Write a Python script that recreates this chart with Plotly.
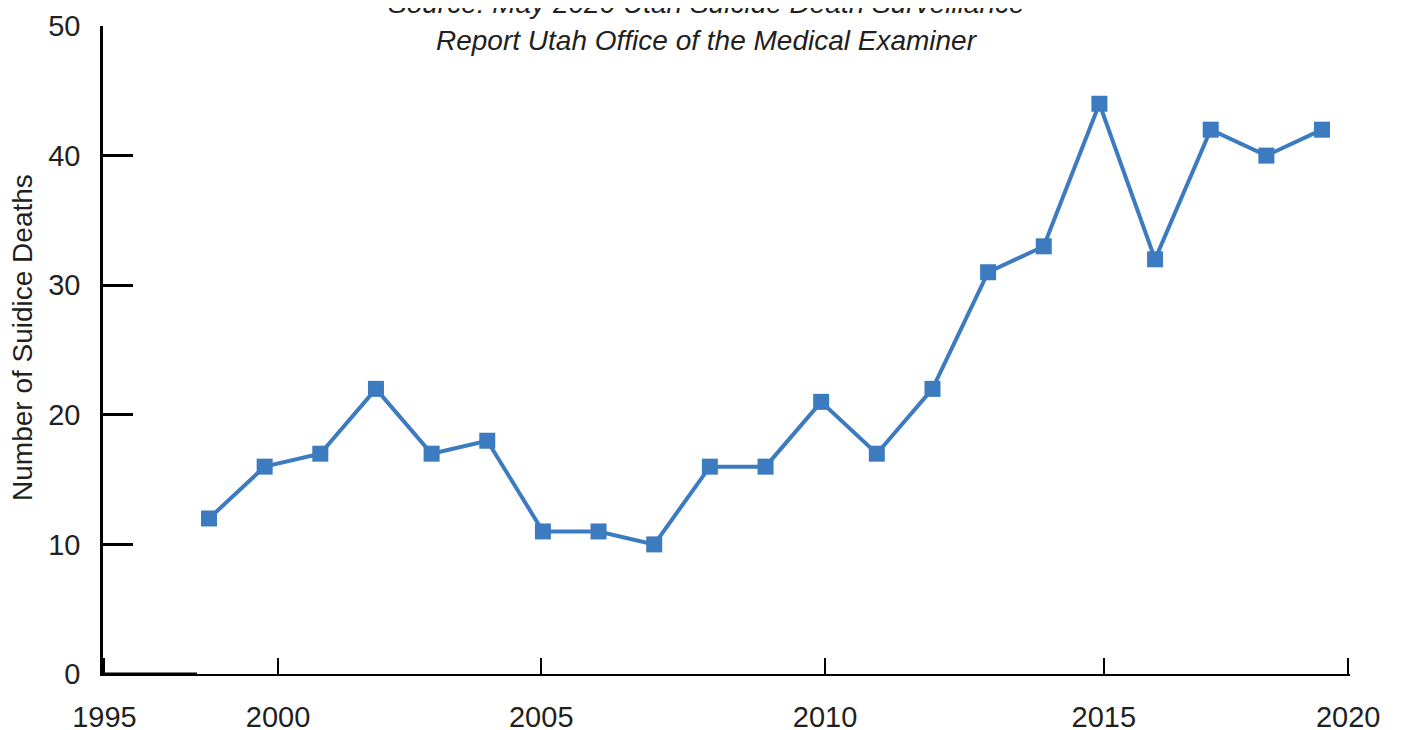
import plotly.graph_objects as go

years = list(range(1999, 2020))
deaths = [12, 16, 17, 22, 17, 18, 11, 11, 10, 16, 16, 21, 17, 22, 31, 33, 44, 32, 42, 40, 42]

x_tick_labels = ["1995", "2000", "2005", "2010", "2015", "2020"]
x_tick_positions = [1997.12, 2000.24, 2004.97, 2010.07, 2015.08, 2019.47]
y_tick_values = [0, 10, 20, 30, 40, 50]

title_line1 = "Source: May 2020 Utah Suicide Death Surveillance"
title_line2 = "Report Utah Office of the Medical Examiner"
y_title = "Number of Suidice Deaths"

FONT = "Liberation Sans"
BLUE = "#3C7BBF"
TXT = "#231F20"

fig = go.Figure()
fig.add_trace(go.Scatter(
    x=years, y=deaths, mode="lines+markers",
    line=dict(color=BLUE, width=4),
    marker=dict(symbol="square", size=16, color=BLUE),
    showlegend=False, hoverinfo="x+y",
))

fig.update_layout(
    width=1403, height=730,
    margin=dict(l=95, r=61, t=18, b=64),
    plot_bgcolor="white", paper_bgcolor="white",
    font=dict(family=FONT, color=TXT, size=29),
    xaxis=dict(
        range=[1997.095, 2019.503], showgrid=False, zeroline=False, automargin=False,
        showline=True, linecolor="black", linewidth=2,
        tickmode="array", tickvals=x_tick_positions, ticktext=x_tick_labels,
        ticks="inside", ticklen=16, tickwidth=2, tickcolor="black",
        tickfont=dict(size=29, family=FONT, color=TXT),
        ticklabelstandoff=16,
    ),
    yaxis=dict(
        range=[0, 50], showgrid=False, zeroline=False, automargin=False,
        showline=True, linecolor="black", linewidth=2.5,
        tickmode="array", tickvals=y_tick_values,
        ticks="inside", ticklen=30, tickwidth=2.5, tickcolor="black",
        tickfont=dict(size=29, family=FONT, color=TXT),
        ticklabelstandoff=14,
    ),
)

fig.add_shape(type="line", xref="paper", yref="paper", x0=0, x1=0.0754, y0=0, y1=0,
              line=dict(color="black", width=3))

fig.add_annotation(text="<i>" + title_line1 + "</i>", xref="paper", yref="paper",
                   x=0.484, y=1.034, xanchor="center", yanchor="middle", showarrow=False,
                   font=dict(size=28, family=FONT, color=TXT))
fig.add_annotation(text="<i>" + title_line2 + "</i>", xref="paper", yref="paper",
                   x=0.484, y=0.977, xanchor="center", yanchor="middle", showarrow=False,
                   font=dict(size=28, family=FONT, color=TXT))
fig.add_annotation(text=y_title, xref="paper", yref="paper",
                   x=-0.065, y=0.52, xanchor="center", yanchor="middle", showarrow=False,
                   textangle=-90, font=dict(size=28, family=FONT, color=TXT))

fig.write_html("out.html")
